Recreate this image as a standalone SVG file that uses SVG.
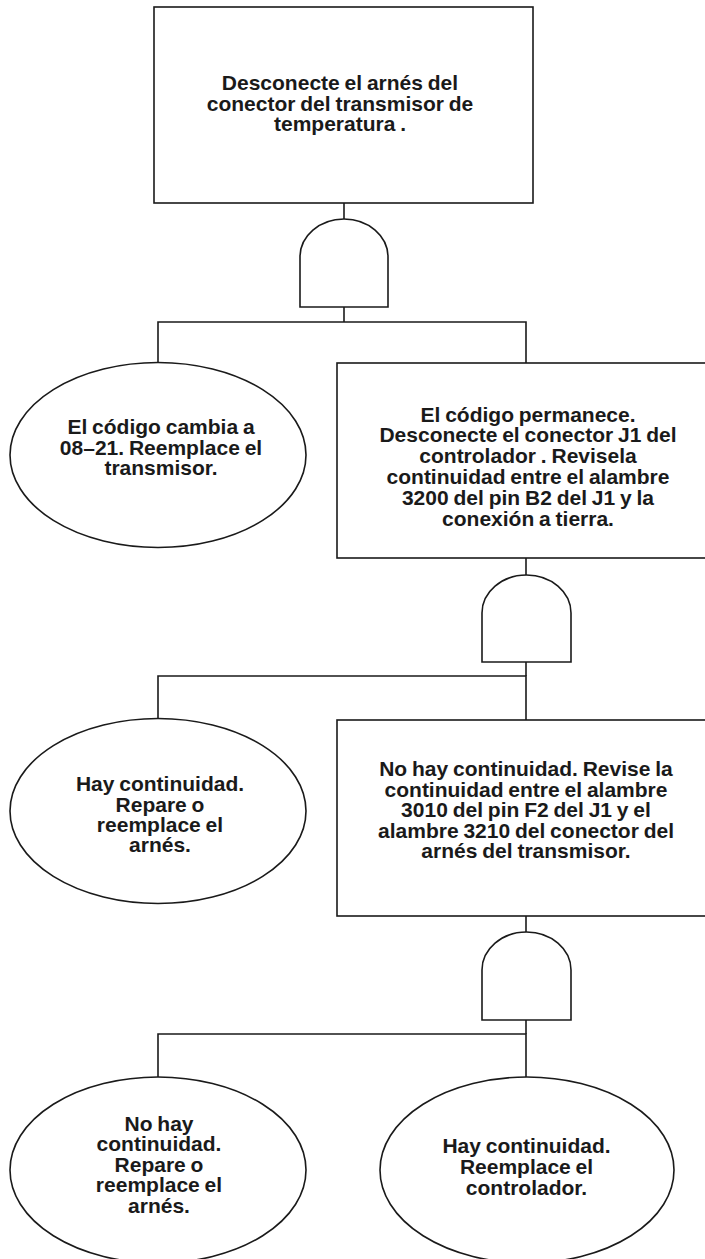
<svg xmlns="http://www.w3.org/2000/svg" width="705" height="1259" viewBox="0 0 705 1259">
<style>
.s{fill:#fff;stroke:#1a1a1a;stroke-width:1.6}
.c{fill:none;stroke:#1a1a1a;stroke-width:1.6}
.t{font-family:"Liberation Sans",Arial,sans-serif;font-weight:bold;font-size:21px;fill:#1a1a1a;text-anchor:middle;word-spacing:-1px}
</style>
<rect width="705" height="1259" fill="#fff"/>
<g id="connectors">
<line class="c" x1="344" y1="203" x2="344" y2="219"/>
<line class="c" x1="344" y1="307" x2="344" y2="322"/>
<polyline class="c" points="158,363 158,322 526,322 526,363"/>
<line class="c" x1="526" y1="558" x2="526" y2="575"/>
<line class="c" x1="526" y1="662" x2="526" y2="676"/>
<polyline class="c" points="158,719 158,676 526,676 526,720"/>
<line class="c" x1="526" y1="916" x2="526" y2="932"/>
<line class="c" x1="526" y1="1020" x2="526" y2="1034"/>
<polyline class="c" points="158,1077 158,1034 526,1034 526,1077"/>
</g>
<g id="gate1"><path class="s" d="M300,307 V257 A44,38 0 0 1 388,257 V307 Z"/></g>
<g id="gate2"><path class="s" d="M482,662 V613 A44.5,38 0 0 1 571,613 V662 Z"/></g>
<g id="gate3"><path class="s" d="M482,1020 V970 A44.5,38 0 0 1 571,970 V1020 Z"/></g>
<g id="n1">
<rect class="s" x="154" y="7" width="379" height="196"/>
<text class="t"><tspan x="340" y="89.5">Desconecte el arnés del</tspan><tspan x="340" y="110.5">conector del transmisor de</tspan><tspan x="340" y="131">temperatura .</tspan></text>
</g>
<g id="n2">
<ellipse class="s" cx="158" cy="455" rx="148" ry="92.5"/>
<text class="t"><tspan x="161" y="434">El código cambia a</tspan><tspan x="161" y="454.5">08–21. Reemplace el</tspan><tspan x="161" y="475">transmisor.</tspan></text>
</g>
<g id="n3">
<rect class="s" x="337" y="363" width="380" height="195"/>
<text class="t"><tspan x="528" y="421.5">El código permanece.</tspan><tspan x="528" y="442.3">Desconecte el conector J1 del</tspan><tspan x="528" y="463.3">controlador . Revisela</tspan><tspan x="528" y="484.2">continuidad entre el alambre</tspan><tspan x="528" y="505.2">3200 del pin B2 del J1 y la</tspan><tspan x="528" y="525.5">conexión a  tierra.</tspan></text>
</g>
<g id="n4">
<ellipse class="s" cx="158" cy="811" rx="148" ry="92.5"/>
<text class="t"><tspan x="160" y="791">Hay continuidad.</tspan><tspan x="160" y="811.5">Repare o</tspan><tspan x="160" y="832">reemplace el</tspan><tspan x="160" y="852">arnés.</tspan></text>
</g>
<g id="n5">
<rect class="s" x="337" y="720" width="380" height="196"/>
<text class="t"><tspan x="526" y="776">No hay continuidad. Revise la</tspan><tspan x="526" y="796.7">continuidad entre el alambre</tspan><tspan x="526" y="817.3">3010 del pin F2 del J1 y el</tspan><tspan x="526" y="838">alambre 3210 del conector del</tspan><tspan x="526" y="858.2">arnés del transmisor.</tspan></text>
</g>
<g id="n6">
<ellipse class="s" cx="158" cy="1170" rx="148" ry="93"/>
<text class="t"><tspan x="159" y="1130.7">No hay</tspan><tspan x="159" y="1150.7">continuidad.</tspan><tspan x="159" y="1171.5">Repare o</tspan><tspan x="159" y="1192.4">reemplace el</tspan><tspan x="159" y="1213">arnés.</tspan></text>
</g>
<g id="n7">
<ellipse class="s" cx="527" cy="1170" rx="147" ry="93"/>
<text class="t"><tspan x="526.5" y="1152.5">Hay continuidad.</tspan><tspan x="526.5" y="1174">Reemplace el</tspan><tspan x="526.5" y="1195">controlador.</tspan></text>
</g>
</svg>
